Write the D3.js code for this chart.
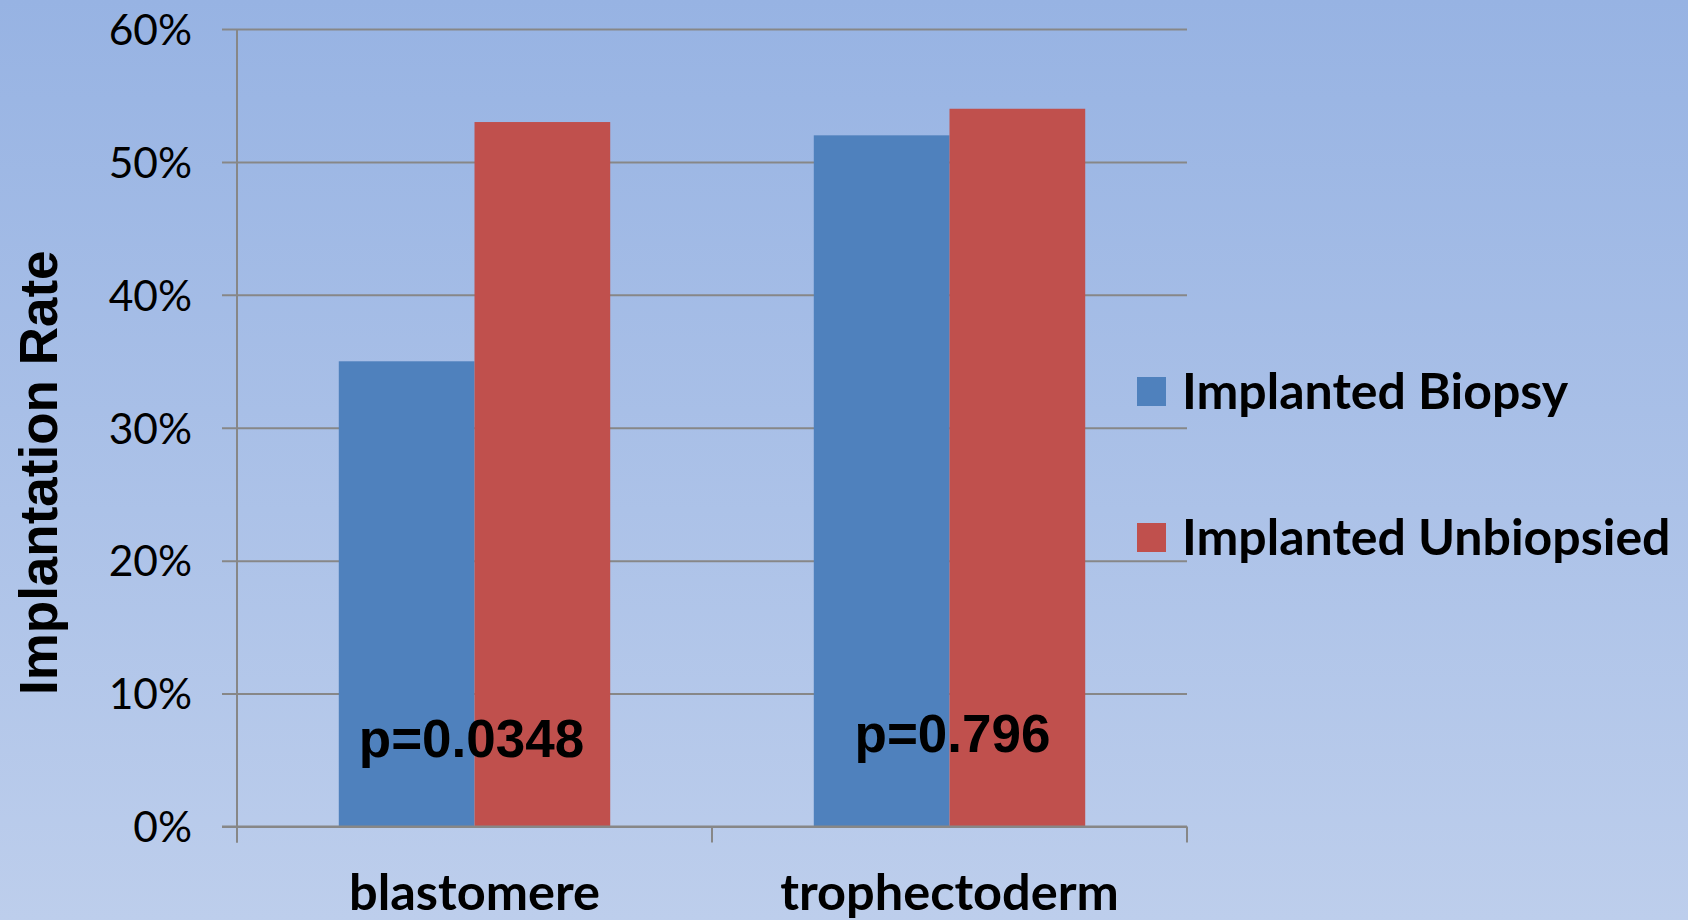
<!DOCTYPE html>
<html>
<head>
<meta charset="utf-8">
<script src="https://cdn.jsdelivr.net/npm/d3@7"></script>
<style>
  html, body { margin: 0; padding: 0; }
  body { width: 1688px; height: 920px; overflow: hidden; }
  svg { display: block; }
</style>
</head>
<body>
<svg id="chart" width="1688" height="920"></svg>
<script>
// Implantation rate by biopsy technique
const categories = ["blastomere", "trophectoderm"];
const seriesNames = ["Implanted Biopsy", "Implanted Unbiopsied"];
const biopsyRates = [0.35, 0.52];
const unbiopsiedRates = [0.53, 0.54];
const pValueLabels = ["p=0.0348", "p=0.796"];
const pLabelLevels = [0.0525, 0.056];
const yTickValues = [0, 0.1, 0.2, 0.3, 0.4, 0.5, 0.6];

const seriesValues = [biopsyRates, unbiopsiedRates];
const seriesColors = ["#4f81bd", "#c0504d"];
const gridColor = "#878787";

const width = 1688, height = 920;
const plot = { left: 237, right: 1187, top: 29, bottom: 826.5 };
const pLabelShift = [-3, 3];

const svg = d3.select("#chart");

// background gradient
const defs = svg.append("defs");
const grad = defs.append("linearGradient")
  .attr("id", "bg").attr("x1", 0).attr("y1", 0).attr("x2", 0).attr("y2", 1);
grad.append("stop").attr("offset", "0%").attr("stop-color", "#97b3e3");
grad.append("stop").attr("offset", "100%").attr("stop-color", "#bdceec");
svg.append("rect").attr("width", width).attr("height", height).attr("fill", "url(#bg)");

const x = d3.scaleBand().domain(categories).range([plot.left, plot.right]).padding(0);
const xSeries = d3.scaleBand().domain(seriesNames).range([0, x.bandwidth()])
  .paddingInner(0).paddingOuter(0.75);
const y = d3.scaleLinear().domain([0, 0.6]).range([plot.bottom, plot.top]);

// gridlines (extending left past the axis as tick marks)
const grid = svg.append("g")
  .attr("transform", `translate(${plot.left - 15},0)`)
  .call(d3.axisRight(y).tickValues(yTickValues).tickSize(plot.right - plot.left + 15).tickFormat(""));
grid.select(".domain").remove();
grid.selectAll(".tick line").attr("stroke", gridColor).attr("stroke-width", 2);

// bars
const rows = categories.map((c, i) => ({
  category: c,
  values: seriesNames.map((s, j) => ({ series: s, value: seriesValues[j][i], color: seriesColors[j] }))
}));

const groups = svg.append("g").selectAll("g")
  .data(rows).join("g")
  .attr("transform", d => `translate(${x(d.category)},0)`);

groups.selectAll("rect")
  .data(d => d.values).join("rect")
  .attr("x", d => xSeries(d.series))
  .attr("width", xSeries.bandwidth())
  .attr("y", d => y(d.value))
  .attr("height", d => y(0) - y(d.value))
  .attr("fill", d => d.color);

// y axis labels
const yAxis = svg.append("g")
  .attr("transform", `translate(${plot.left},0)`)
  .call(d3.axisLeft(y).tickValues(yTickValues).tickFormat(d3.format(".0%"))
    .tickSize(15).tickPadding(30));
yAxis.select(".domain").remove();
yAxis.selectAll(".tick line").remove();
yAxis.selectAll(".tick text")
  .attr("font-family", "Lato, 'Open Sans', sans-serif")
  .attr("font-size", 42.5)
  .attr("fill", "#000")
  .attr("dy", "0.36em");

// y axis line
svg.append("line")
  .attr("x1", plot.left).attr("x2", plot.left)
  .attr("y1", plot.top).attr("y2", plot.bottom + 16)
  .attr("stroke", gridColor).attr("stroke-width", 2);

// x axis line and category boundary ticks
svg.append("line")
  .attr("x1", plot.left - 15).attr("x2", plot.right)
  .attr("y1", plot.bottom).attr("y2", plot.bottom)
  .attr("stroke", gridColor).attr("stroke-width", 2);
const boundaries = categories.map(c => x(c)).concat([x(categories[categories.length - 1]) + x.bandwidth()]);
svg.append("g").selectAll("line")
  .data(boundaries).join("line")
  .attr("x1", d => d).attr("x2", d => d)
  .attr("y1", plot.bottom).attr("y2", plot.bottom + 16)
  .attr("stroke", gridColor).attr("stroke-width", 2);

// category labels
svg.append("g").selectAll("text")
  .data(categories).join("text")
  .attr("x", d => x(d) + x.bandwidth() / 2)
  .attr("y", 910)
  .attr("text-anchor", "middle")
  .attr("font-family", "Lato, 'Open Sans', sans-serif")
  .attr("font-weight", "bold")
  .attr("font-size", 50.5)
  .attr("fill", "#000")
  .text(d => d);

// p-value annotations
svg.append("g").selectAll("text")
  .data(categories).join("text")
  .attr("x", (d, i) => x(d) + x.bandwidth() / 2 + pLabelShift[i])
  .attr("y", (d, i) => y(pLabelLevels[i]))
  .attr("text-anchor", "middle")
  .attr("font-family", "'Liberation Sans', Arial, sans-serif")
  .attr("font-weight", "bold")
  .attr("font-size", 53)
  .attr("fill", "#000")
  .text((d, i) => pValueLabels[i]);

// y axis title
svg.append("text")
  .attr("transform", `translate(57,${(plot.top + plot.bottom) / 2 + 45}) rotate(-90)`)
  .attr("text-anchor", "middle")
  .attr("font-family", "'Liberation Sans', Arial, sans-serif")
  .attr("font-weight", "bold")
  .attr("font-size", 53)
  .attr("fill", "#000")
  .text("Implantation Rate");

// legend
const legend = svg.append("g").selectAll("g")
  .data(seriesNames).join("g")
  .attr("transform", (d, i) => `translate(1137,${377 + i * 146})`);
legend.append("rect")
  .attr("width", 29).attr("height", 29)
  .attr("fill", (d, i) => seriesColors[i]);
legend.append("text")
  .attr("x", 45).attr("y", 32)
  .attr("font-family", "Lato, 'Open Sans', sans-serif")
  .attr("font-weight", "bold")
  .attr("font-size", 50)
  .attr("fill", "#000")
  .text(d => d);
</script>
</body>
</html>
